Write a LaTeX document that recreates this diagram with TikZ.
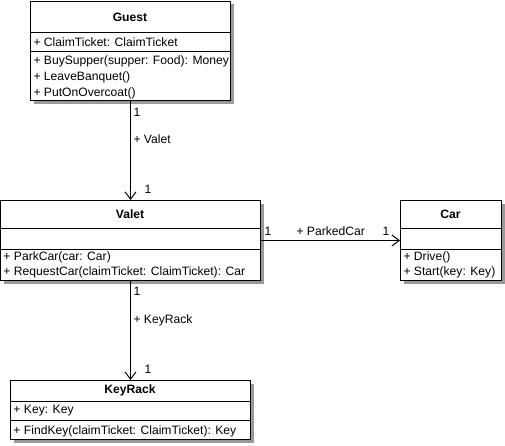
\documentclass[tikz,border=0pt]{standalone}
\usepackage{fontspec}
\setmainfont{Liberation Sans}
\usetikzlibrary{arrows.meta}
\begin{document}
\begin{tikzpicture}[x=0.75pt,y=-0.75pt,
  line width=0.75pt,
  every node/.style={font=\fontsize{9.1pt}{11pt}\selectfont},
  cls/.style={draw=black,fill=white,inner sep=0pt,anchor=north west},
  shadowbox/.style={fill=black!40,draw=none},
  title/.style={font=\fontsize{9.1pt}{11pt}\selectfont\bfseries,inner sep=0pt},
  member/.style={anchor=west,inner sep=0pt},
  lbl/.style={anchor=west,inner sep=0pt},
  assoc/.style={draw=black,line width=0.75pt,-{Straight Barb[length=5.5pt,width=8.25pt,line width=0.75pt]}}
]
\useasboundingbox (0,0) rectangle (505,445);
\fill[white] (0,0) rectangle (505,445);

% shadows
\fill[shadowbox] (34,4) rectangle (234,104);
\fill[shadowbox] (4,204) rectangle (264,284);
\fill[shadowbox] (404,204) rectangle (505,284);
\fill[shadowbox] (14,384) rectangle (254,443);

% Guest
\node[cls,minimum width=150pt,minimum height=74.25pt] (guest) at (30,1) {};
\draw (30,33) -- (230,33);
\draw (30,52) -- (230,52);
\node[title] (guestT) at (130,17) {Guest};
\node[member] (g1) at (33,42) {+ ClaimTicket: ClaimTicket};
\node[member] (g2) at (33,61) {+ BuySupper(supper: Food): Money};
\node[member] (g3) at (33,77) {+ LeaveBanquet()};
\node[member] (g4) at (33,93) {+ PutOnOvercoat()};

% Valet
\node[cls,minimum width=195pt,minimum height=60pt] (valet) at (0,200) {};
\draw (0,228) -- (260,228);
\draw (0,249) -- (260,249);
\node[title] (valetT) at (130,214) {Valet};
\node[member] (v1) at (3,257) {+ ParkCar(car: Car)};
\node[member] (v2) at (3,272) {+ RequestCar(claimTicket: ClaimTicket): Car};

% Car
\node[cls,minimum width=75.75pt,minimum height=60pt] (car) at (400,200) {};
\draw (400,228) -- (501,228);
\draw (400,249) -- (501,249);
\node[title] (carT) at (450.5,214) {Car};
\node[member] (c1) at (403,257) {+ Drive()};
\node[member] (c2) at (403,272) {+ Start(key: Key)};

% KeyRack
\node[cls,minimum width=180pt,minimum height=44.25pt] (keyrack) at (10,380) {};
\draw (10,401) -- (250,401);
\draw (10,420) -- (250,420);
\node[title] (keyrackT) at (130,390) {KeyRack};
\node[member] (k1) at (13,411) {+ Key: Key};
\node[member] (k2) at (13,431) {+ FindKey(claimTicket: ClaimTicket): Key};

% associations
\draw[assoc] (guest.south) -- (valet.north);
\draw[assoc] (valet.east) -- (car.west);
\draw[assoc] (valet.south) -- (keyrack.north);

% labels
\node[lbl] (l1) at (133,112) {1};
\node[lbl] (l2) at (133,139) {+ Valet};
\node[lbl] (l3) at (144,189) {1};
\node[lbl] (l4) at (264,231) {1};
\node[lbl] (l5) at (296,231) {+ ParkedCar};
\node[lbl] (l6) at (382,231) {1};
\node[lbl] (l7) at (133,291) {1};
\node[lbl] (l8) at (133,320) {+ KeyRack};
\node[lbl] (l9) at (144,369) {1};
\end{tikzpicture}
\end{document}
